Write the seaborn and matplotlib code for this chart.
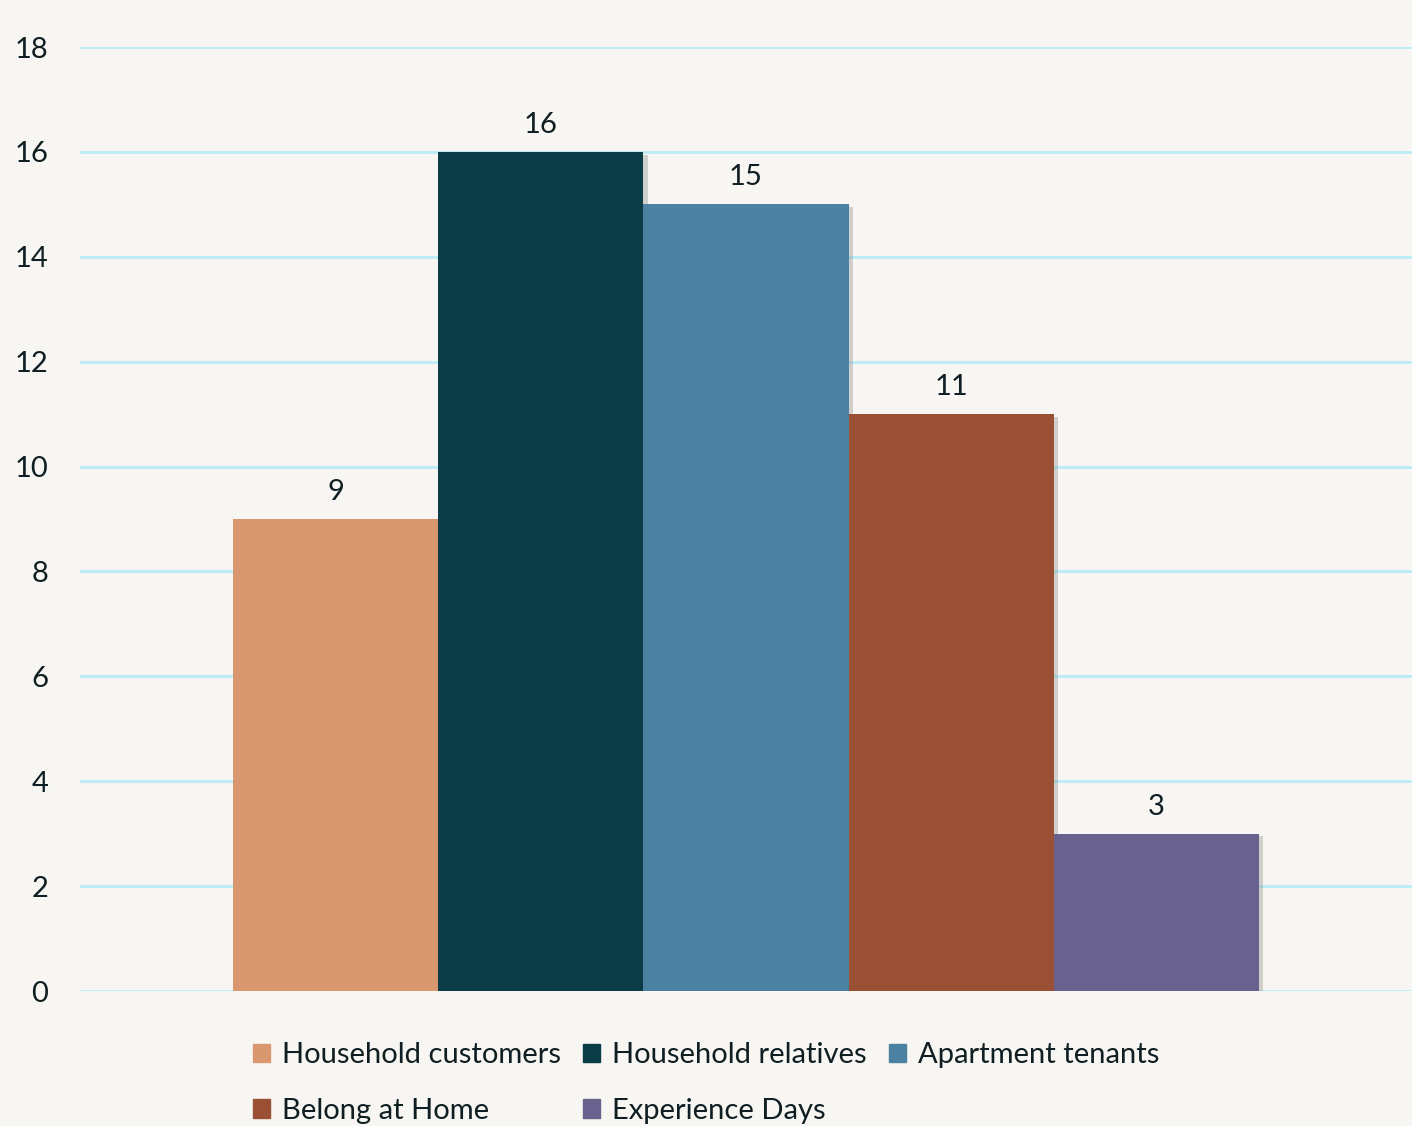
import matplotlib
matplotlib.use("Agg")
import matplotlib.pyplot as plt
import matplotlib.patheffects as pe
import seaborn as sns
import pandas as pd

categories = ["Household customers", "Household relatives", "Apartment tenants",
              "Belong at Home", "Experience Days"]
values = [9, 16, 15, 11, 3]
colors = ["#d99770", "#0b3d48", "#4b82a1", "#9a5035", "#69628f"]
yticks = [0, 2, 4, 6, 8, 10, 12, 14, 16, 18]

bg = "#f7f6f2"
sns.set_theme(style="white")
plt.rcParams["font.family"] = ["Lato", "DejaVu Sans"]

df = pd.DataFrame({"group": [""] * len(categories), "series": categories, "value": values})

fig = plt.figure(figsize=(14.12, 11.26), dpi=100, facecolor=bg)
ax = fig.add_axes([80 / 1412, 1 - 991 / 1126, 1 - 80 / 1412, 944 / 1126])
ax.set_facecolor(bg)

sns.barplot(data=df, x="group", y="value", hue="series", hue_order=categories,
            palette=colors, width=0.77, dodge=True, ax=ax, legend=False,
            saturation=1, linewidth=0, zorder=3)

for p in ax.patches:
    p.set_path_effects([pe.SimplePatchShadow(offset=(3, -2), shadow_rgbFace="#777777", alpha=0.3),
                        pe.Normal()])

for c in ax.containers:
    ax.bar_label(c, labels=[f"{v:g}" for v in c.datavalues], padding=10,
                 fontsize=21, color="#0f1e22")

ax.set_xlim(-0.5, 0.5)
ax.set_ylim(0, 18)
ax.set_yticks(yticks)
ax.set_yticklabels([str(t) for t in yticks], fontsize=21, color="#0f1e22")
ax.tick_params(axis="y", length=0, pad=23)
ax.set_xticks([])
ax.set_xlabel("")
ax.set_ylabel("")
ax.grid(axis="y", color="#b9ecf6", linewidth=2, zorder=0)
ax.set_axisbelow(True)
for s in ax.spines.values():
    s.set_visible(False)

handles = [plt.Rectangle((0, 0), 1, 1, color=c) for c in colors]
order = [0, 3, 1, 4, 2]
fig.legend([handles[i] for i in order], [categories[i] for i in order],
           loc="center", bbox_to_anchor=(0.5, 1 - 1083 / 1126), ncol=3,
           frameon=False, fontsize=21, handlelength=0.6, handleheight=0.6,
           handletextpad=0.4, columnspacing=0.75, labelspacing=1.0,
           labelcolor="#0f1e22")

fig.savefig("out.png", dpi=100, facecolor=bg)
